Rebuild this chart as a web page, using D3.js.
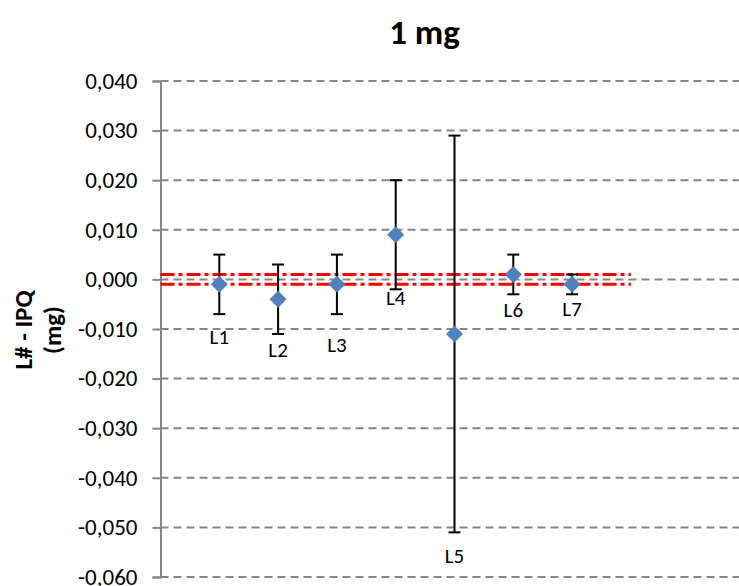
<!DOCTYPE html>
<html>
<head>
<meta charset="utf-8">
<script src="https://cdn.jsdelivr.net/npm/d3@7"></script>
<style>
  body { margin: 0; background: #fff; }
  svg { display: block; font-family: Calibri, Carlito, "Open Sans", sans-serif; }
</style>
</head>
<body>
<div id="chart"></div>
<script>
// data
var names = ["L1", "L2", "L3", "L4", "L5", "L6", "L7"];
var xpos = [1, 2, 3, 4, 5, 6, 7];
var diffs = [-0.001, -0.004, -0.001, 0.009, -0.011, 0.001, -0.001];
var errs = [0.006, 0.007, 0.006, 0.011, 0.040, 0.004, 0.002];
// where each label sits (in mg, baseline)
var labelAt = [-0.0130, -0.0156, -0.0146, -0.0052, -0.0572, -0.0076, -0.0074];
var limits = [0.001, -0.001];
var limitX = [0, 8];
var yTicks = [0.04, 0.03, 0.02, 0.01, 0, -0.01, -0.02, -0.03, -0.04, -0.05, -0.06];

var W = 739, H = 586;

var svg = d3.select("#chart")
    .append("svg")
    .attr("width", W)
    .attr("height", H)

var x = d3.scaleLinear().domain([0, 10]).range([160.5, 748.5])
var y = d3.scaleLinear().domain([-0.06, 0.04]).range([577, 81])

var loc = d3.formatLocale({decimal: ",", thousands: ".", grouping: [3], currency: ["", ""], minus: "-"})
var fmt = loc.format(".3f")

// gridlines
svg.append("g")
    .selectAll("line")
    .data(yTicks)
    .enter()
    .append("line")
    .attr("x1", x(0))
    .attr("x2", W + 20)
    .attr("y1", function(d) { return y(d) })
    .attr("y2", function(d) { return y(d) })
    .style("stroke", "#868686")
    .style("stroke-width", 2)
    .style("stroke-dasharray", "8,5")

// y axis
var yAxis = d3.axisLeft(y)
    .tickValues(yTicks)
    .tickFormat(fmt)
    .tickSize(8)
    .tickPadding(15)

var ax = svg.append("g")
    .attr("transform", "translate(" + x(0) + ",0)")
    .call(yAxis)
ax.select(".domain").style("stroke", "#868686").style("stroke-width", 2)
ax.selectAll(".tick line").style("stroke", "#868686").style("stroke-width", 2)
ax.selectAll(".tick text")
    .style("font-size", "23px")
    .style("fill", "#000")
    .style("font-family", "Calibri, Carlito, 'Open Sans', sans-serif")

// limit lines
svg.append("g")
    .selectAll("line")
    .data(limits)
    .enter()
    .append("line")
    .attr("x1", x(limitX[0]))
    .attr("x2", x(limitX[1]))
    .attr("y1", function(d) { return y(d) })
    .attr("y2", function(d) { return y(d) })
    .style("stroke", "#ff0000")
    .style("stroke-width", 3)
    .style("stroke-dasharray", "14,4,4,4")

// error bars
var eb = svg.append("g")
    .selectAll("g")
    .data(diffs)
    .enter()
    .append("g")
    .style("stroke", "#000")
    .style("stroke-width", 2)

eb.append("line")
    .attr("x1", function(d, i) { return x(xpos[i]) })
    .attr("x2", function(d, i) { return x(xpos[i]) })
    .attr("y1", function(d, i) { return y(d + errs[i]) })
    .attr("y2", function(d, i) { return y(d - errs[i]) })
eb.append("line")
    .attr("x1", function(d, i) { return x(xpos[i]) - 6 })
    .attr("x2", function(d, i) { return x(xpos[i]) + 6 })
    .attr("y1", function(d, i) { return y(d + errs[i]) })
    .attr("y2", function(d, i) { return y(d + errs[i]) })
eb.append("line")
    .attr("x1", function(d, i) { return x(xpos[i]) - 6 })
    .attr("x2", function(d, i) { return x(xpos[i]) + 6 })
    .attr("y1", function(d, i) { return y(d - errs[i]) })
    .attr("y2", function(d, i) { return y(d - errs[i]) })

// diamonds
var diamond = d3.symbol().type(d3.symbolSquare).size(145)
svg.append("g")
    .selectAll("path")
    .data(diffs)
    .enter()
    .append("path")
    .attr("d", diamond)
    .attr("transform", function(d, i) { return "translate(" + x(xpos[i]) + "," + y(d) + ") rotate(45)" })
    .style("fill", "#4f81bd")

// point labels
svg.append("g")
    .selectAll("text")
    .data(names)
    .enter()
    .append("text")
    .attr("x", function(d, i) { return x(xpos[i]) })
    .attr("y", function(d, i) { return y(labelAt[i]) })
    .attr("text-anchor", "middle")
    .style("font-size", "21px")
    .text(function(d) { return d })

// title
svg.append("text")
    .attr("x", 424.5)
    .attr("y", 44)
    .attr("text-anchor", "middle")
    .style("font-size", "35px")
    .style("font-weight", "bold")
    .text("1 mg")

// y label
var yl = svg.append("text")
    .attr("transform", "translate(0,330) rotate(-90)")
    .attr("text-anchor", "middle")
    .style("font-size", "25px")
    .style("font-weight", "bold")
yl.append("tspan").attr("x", 0).attr("y", 32).text("L# - IPQ")
yl.append("tspan").attr("x", 0).attr("y", 61).text("(mg)")
</script>
</body>
</html>
